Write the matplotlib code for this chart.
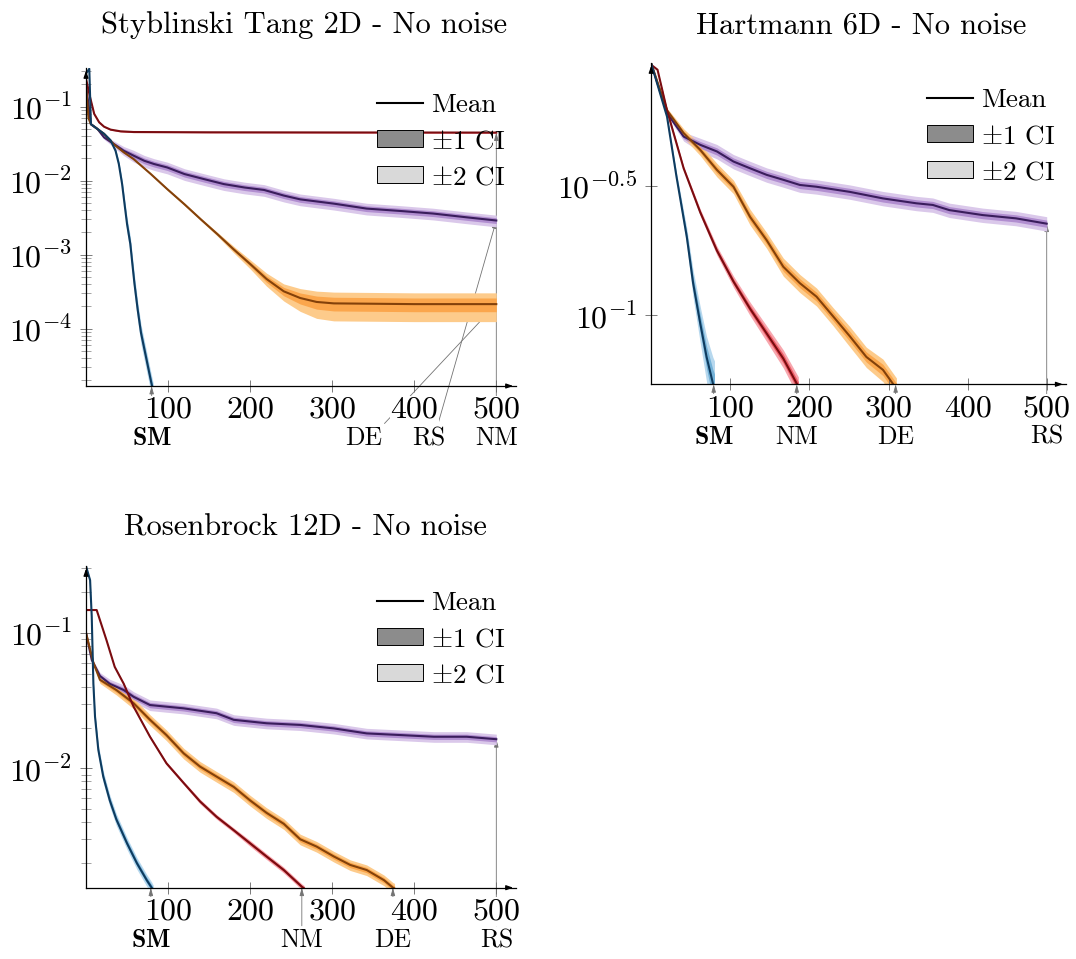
import numpy as np
import matplotlib
matplotlib.use("Agg")
import matplotlib.pyplot as plt
from matplotlib.lines import Line2D
from matplotlib.patches import Patch
from matplotlib.ticker import FixedLocator, FixedFormatter, NullLocator, NullFormatter

plt.rcParams["font.family"] = "cmr10"
plt.rcParams["mathtext.fontset"] = "cm"
plt.rcParams["axes.formatter.use_mathtext"] = True

# ---- Styblinski Tang 2D ----
st_sm_it = [0, 4, 6, 14, 22, 30, 36, 40, 44, 47, 50, 54, 56.5, 59, 63, 67, 73, 79, 82]
st_sm_mean = [0.28, 0.326, 0.058, 0.050, 0.043, 0.035, 0.0254, 0.0168, 0.009, 0.0048, 0.0026, 0.0014,
              7.5e-4, 4.1e-4, 1.8e-4, 8.8e-5, 4.2e-5, 2.0e-5, 1.4e-5]
st_sm_ci = [0.0, 0.0, 0.01, 0.01, 0.02, 0.03, 0.04, 0.06, 0.08, 0.1, 0.12, 0.13, 0.14, 0.15, 0.15, 0.15,
            0.15, 0.15, 0.15]

st_nm_it = [0, 5, 10, 16, 22, 30, 42, 58, 150, 300, 500]
st_nm_mean = [0.24, 0.134, 0.08, 0.0616, 0.0537, 0.049, 0.0465, 0.0455, 0.0451, 0.0449, 0.0447]
st_nm_ci = [0.0, 0.01, 0.01, 0.01, 0.01, 0.01, 0.01, 0.01, 0.01, 0.01, 0.01]

st_de_it = [0, 3, 6, 14, 22, 34, 46, 58, 79, 99, 120, 140, 160, 180, 200, 220, 241, 261, 281, 302, 400, 500]
st_de_mean = [0.2, 0.07, 0.058, 0.05, 0.043, 0.031, 0.0242, 0.0196, 0.0123, 0.0077, 0.0048, 0.0030, 0.0019,
              0.00118, 7.5e-4, 4.7e-4, 3.2e-4, 2.6e-4, 2.3e-4, 2.2e-4, 2.15e-4, 2.15e-4]
st_de_ci = [0.0, 0.01, 0.01, 0.01, 0.01, 0.01, 0.01, 0.01, 0.01, 0.015, 0.02, 0.02, 0.03, 0.05, 0.07, 0.1,
            0.13, 0.17, 0.2, 0.21, 0.21, 0.21]

st_rs_it = [0, 6, 14, 22, 34, 46, 58, 71, 83, 99, 120, 144, 168, 193, 217, 241, 261, 302, 342, 383, 423,
            464, 500]
st_rs_mean = [0.2, 0.058, 0.05, 0.0385, 0.0313, 0.0254, 0.0218, 0.0186, 0.0168, 0.0151, 0.0123, 0.0105,
              0.009, 0.0081, 0.0075, 0.0063, 0.0056, 0.0049, 0.0042, 0.0039, 0.0036, 0.0032, 0.0029]
st_rs_ci = [0.0, 0.01, 0.02, 0.03, 0.05, 0.07, 0.09, 0.09, 0.09, 0.09, 0.09, 0.09, 0.09, 0.09, 0.09, 0.09,
            0.09, 0.09, 0.09, 0.09, 0.09, 0.09, 0.09]

# ---- Hartmann 6D ----
hm_sm_it = [0, 20, 32, 45, 53, 62, 70, 78, 80]
hm_sm_mean = [0.94, 0.586, 0.343, 0.201, 0.133, 0.093, 0.069, 0.0546, 0.052]
hm_sm_ci = [0.0, 0.01, 0.02, 0.04, 0.06, 0.08, 0.1, 0.13, 0.14]

hm_nm_it = [0, 8, 20, 41, 62, 83, 104, 125, 146, 167, 186]
hm_nm_mean = [0.93, 0.89, 0.62, 0.37, 0.25, 0.178, 0.135, 0.106, 0.085, 0.068, 0.053]
hm_nm_ci = [0.0, 0.0, 0.01, 0.01, 0.015, 0.02, 0.025, 0.03, 0.035, 0.04, 0.045]

hm_de_it = [0, 20, 41, 62, 83, 104, 125, 146, 167, 188, 209, 230, 251, 272, 293, 310]
hm_de_mean = [0.94, 0.62, 0.506, 0.436, 0.365, 0.314, 0.24, 0.195, 0.154, 0.133, 0.118, 0.099, 0.083,
              0.069, 0.0615, 0.052]
hm_de_ci = [0.0, 0.01, 0.02, 0.025, 0.03, 0.03, 0.035, 0.035, 0.04, 0.04, 0.04, 0.04, 0.045, 0.045, 0.05, 0.05]

hm_rs_it = [0, 20, 41, 62, 83, 104, 125, 146, 167, 188, 209, 251, 293, 335, 356, 377, 419, 461, 500]
hm_rs_mean = [0.94, 0.605, 0.491, 0.456, 0.43, 0.393, 0.37, 0.349, 0.334, 0.319, 0.314, 0.3, 0.283, 0.271,
              0.267, 0.255, 0.244, 0.237, 0.226]
hm_rs_ci = [0.0, 0.01, 0.02, 0.03, 0.032, 0.032, 0.032, 0.032, 0.032, 0.032, 0.032, 0.032, 0.032, 0.032,
            0.032, 0.032, 0.032, 0.032, 0.032]

# ---- Rosenbrock 12D ----
rb_sm_it = [0, 5, 7, 9, 11, 15, 21, 29, 37, 50, 62, 74, 80, 82]
rb_sm_mean = [0.31, 0.244, 0.131, 0.042, 0.024, 0.0137, 0.0087, 0.0058, 0.0042, 0.0028, 0.002, 0.0015,
              0.00132, 0.00125]
rb_sm_ci = [0.0, 0.01, 0.02, 0.03, 0.04, 0.05, 0.05, 0.05, 0.05, 0.05, 0.05, 0.05, 0.05, 0.05]

rb_nm_it = [0, 13, 25, 35, 46, 58, 78, 98, 119, 139, 159, 180, 200, 220, 241, 263, 266]
rb_nm_mean = [0.147, 0.147, 0.088, 0.056, 0.042, 0.0285, 0.0171, 0.0109, 0.0078, 0.0057, 0.0044, 0.0035,
              0.0028, 0.00224, 0.00178, 0.00134, 0.0013]
rb_nm_ci = [0.0, 0.0, 0.005, 0.005, 0.01, 0.01, 0.01, 0.015, 0.015, 0.02, 0.02, 0.02, 0.025, 0.025,
            0.025, 0.025, 0.025]

rb_de_it = [0, 9, 17, 37, 58, 78, 98, 119, 139, 159, 180, 200, 220, 241, 261, 281, 302, 322, 342, 363, 374, 376]
rb_de_mean = [0.1, 0.06, 0.045, 0.0378, 0.0302, 0.0228, 0.0176, 0.0129, 0.0103, 0.0087, 0.0073, 0.0058,
              0.0047, 0.0039, 0.003, 0.00265, 0.00224, 0.00194, 0.00178, 0.0015, 0.00132, 0.0013]
rb_de_ci = [0.0, 0.02, 0.03, 0.04, 0.045, 0.045, 0.045, 0.045, 0.045, 0.045, 0.045, 0.045, 0.045, 0.045,
            0.045, 0.045, 0.045, 0.045, 0.045, 0.045, 0.045, 0.045]

rb_rs_it = [0, 7, 17, 29, 46, 58, 78, 98, 119, 159, 180, 220, 261, 302, 342, 383, 424, 464, 500]
rb_rs_mean = [0.1, 0.063, 0.048, 0.042, 0.0378, 0.0337, 0.0293, 0.0285, 0.0277, 0.0255, 0.0228, 0.0215,
              0.0209, 0.0197, 0.0181, 0.0176, 0.0171, 0.0171, 0.0164]
rb_rs_ci = [0.0, 0.02, 0.03, 0.04, 0.045, 0.045, 0.045, 0.045, 0.045, 0.045, 0.045, 0.045, 0.045, 0.045,
            0.045, 0.045, 0.045, 0.045, 0.045]

x_ticks = [100, 200, 300, 400, 500]

# colours: line, +-1 band, +-2 band
colors = {
    "SM": ("#0e3b5f", "#74b2d8", "#b7d8ee"),
    "NM": ("#7a0c10", "#ee5e68", "#f7a7ae"),
    "DE": ("#83410a", "#fba64c", "#fdcb8b"),
    "RS": ("#3a1d5c", "#b18ed0", "#dac8ea"),
}
order = ["RS", "DE", "NM", "SM"]


def panel(ax, data, ylim, yticks, ylabels, minor, labels):
    ax.set_yscale("log")
    for name in order:
        it, mean, ci = data[name]
        it = np.array(it, dtype=float)
        m = np.array(mean)
        r = np.array(ci)
        c = colors[name]
        ax.fill_between(it, np.clip(m * (1 - 2 * r), 1e-9, None), m * (1 + 2 * r), color=c[2], lw=0, zorder=1.2)
        ax.fill_between(it, np.clip(m * (1 - r), 1e-9, None), m * (1 + r), color=c[1], lw=0, zorder=1.3)
    for name in order:
        it, mean, ci = data[name]
        ax.plot(it, mean, color=colors[name][0], lw=1.5, zorder=2)

    ax.set_xlim(0, 524)
    ax.set_ylim(*ylim)
    for s in ["top", "right"]:
        ax.spines[s].set_visible(False)
    for s in ["left", "bottom"]:
        ax.spines[s].set_linewidth(0.9)
    ax.annotate("", xy=(1.0, 0), xytext=(0.97, 0), xycoords="axes fraction",
                arrowprops=dict(arrowstyle="-|>,head_length=0.4,head_width=0.14", lw=0.9, color="black"))
    ax.annotate("", xy=(0, 1.0), xytext=(0, 0.97), xycoords="axes fraction",
                arrowprops=dict(arrowstyle="-|>,head_length=0.4,head_width=0.14", lw=0.9, color="black"))

    ax.xaxis.set_major_locator(FixedLocator(x_ticks))
    ax.xaxis.set_major_formatter(FixedFormatter([str(t) for t in x_ticks]))
    ax.yaxis.set_major_locator(FixedLocator(yticks))
    ax.yaxis.set_major_formatter(FixedFormatter(ylabels))
    if minor:
        ax.yaxis.set_minor_locator(FixedLocator(minor))
    else:
        ax.yaxis.set_minor_locator(NullLocator())
    ax.yaxis.set_minor_formatter(NullFormatter())
    ax.xaxis.set_minor_locator(NullLocator())
    ax.tick_params(axis="x", direction="inout", length=9, width=0.6, color="0.4", labelsize=23, pad=3)
    ax.tick_params(axis="y", which="major", direction="inout", length=8, width=0.6, color="0.4", labelsize=23, pad=6)
    ax.tick_params(axis="y", which="minor", direction="inout", length=7, width=0.5, color="0.5")
    for lbl in ax.get_xticklabels():
        lbl.set_bbox(dict(facecolor="white", edgecolor="none", pad=0.5))

    for text, x_txt, xy, rx in labels:
        ax.annotate(text, xy=xy, xytext=(x_txt, -0.164), textcoords=("data", "axes fraction"),
                    ha="center", va="center", fontsize=18.5, zorder=1, annotation_clip=False,
                    arrowprops=dict(arrowstyle="-|>,head_length=0.25,head_width=0.07", color="0.45", lw=0.6,
                                    relpos=(rx, 1.0), shrinkA=0, shrinkB=0))

    handles = [Line2D([], [], color="black", lw=1.5),
               Patch(facecolor="#8c8c8c", edgecolor="black", lw=0.7),
               Patch(facecolor="#d9d9d9", edgecolor="black", lw=0.7)]
    ax.legend(handles, ["Mean", r"$\pm$1 CI", r"$\pm$2 CI"], loc="upper right", bbox_to_anchor=(0.975, 0.92),
              frameon=False, fontsize=19.5, borderpad=0, borderaxespad=0, handlelength=1.7,
              handleheight=0.6, handletextpad=0.3, labelspacing=0.45)


fig = plt.figure(figsize=(10.76, 9.59), dpi=100)
W, H = 1076, 959

ax1 = fig.add_axes([86 / W, 1 - 386 / H, 430 / W, 318 / H])
ax2 = fig.add_axes([651.2 / W, 1 - 384.3 / H, 414.5 / W, 321.3 / H])
ax3 = fig.add_axes([86 / W, 1 - 887.7 / H, 430 / W, 321.7 / H])

st_ylim = (10 ** -4.774, 10 ** -0.477)
hm_ylim = (10 ** -1.267, 10 ** -0.0246)
rb_ylim = (10 ** -2.88, 10 ** -0.508)

panel(ax1,
      {"SM": (st_sm_it, st_sm_mean, st_sm_ci), "NM": (st_nm_it, st_nm_mean, st_nm_ci),
       "DE": (st_de_it, st_de_mean, st_de_ci), "RS": (st_rs_it, st_rs_mean, st_rs_ci)},
      st_ylim, [1e-4, 1e-3, 1e-2, 1e-1], [r"$10^{-4}$", r"$10^{-3}$", r"$10^{-2}$", r"$10^{-1}$"],
      [k * 10.0 ** e for e in range(-5, 0) for k in range(2, 10)],
      [(r"$\mathbf{SM}$", 80, (80, st_ylim[0]), 0.5),
       ("DE", 338, (500, st_de_mean[-1]), 1.0),
       ("RS", 418, (500, st_rs_mean[-1]), 0.75),
       ("NM", 500, (500, st_nm_mean[-1]), 0.5)])

panel(ax2,
      {"SM": (hm_sm_it, hm_sm_mean, hm_sm_ci), "NM": (hm_nm_it, hm_nm_mean, hm_nm_ci),
       "DE": (hm_de_it, hm_de_mean, hm_de_ci), "RS": (hm_rs_it, hm_rs_mean, hm_rs_ci)},
      hm_ylim, [10 ** -1, 10 ** -0.5], [r"$10^{-1}$", r"$10^{-0.5}$"], None,
      [(r"$\mathbf{SM}$", 79, (79, hm_ylim[0]), 0.5),
       ("NM", 184, (184, hm_ylim[0]), 0.5),
       ("DE", 309, (309, hm_ylim[0]), 0.5),
       ("RS", 500, (500, hm_rs_mean[-1]), 0.5)])

panel(ax3,
      {"SM": (rb_sm_it, rb_sm_mean, rb_sm_ci), "NM": (rb_nm_it, rb_nm_mean, rb_nm_ci),
       "DE": (rb_de_it, rb_de_mean, rb_de_ci), "RS": (rb_rs_it, rb_rs_mean, rb_rs_ci)},
      rb_ylim, [1e-2, 1e-1], [r"$10^{-2}$", r"$10^{-1}$"],
      [k * 10.0 ** e for e in range(-3, 0) for k in range(2, 10)],
      [(r"$\mathbf{SM}$", 79, (79, rb_ylim[0]), 0.5),
       ("NM", 263, (263, rb_ylim[0]), 0.5),
       ("DE", 374, (374, rb_ylim[0]), 0.5),
       ("RS", 500, (500, rb_rs_mean[-1]), 0.5)])

fig.text(304 / W, 1 - 33 / H, "Styblinski Tang 2D - No noise", ha="center", va="baseline", fontsize=22)
fig.text(861 / W, 1 - 33 / H, "Hartmann 6D - No noise", ha="center", va="baseline", fontsize=22)
fig.text(305 / W, 1 - 535 / H, "Rosenbrock 12D - No noise", ha="center", va="baseline", fontsize=22)

fig.savefig("out.png", dpi=100)
